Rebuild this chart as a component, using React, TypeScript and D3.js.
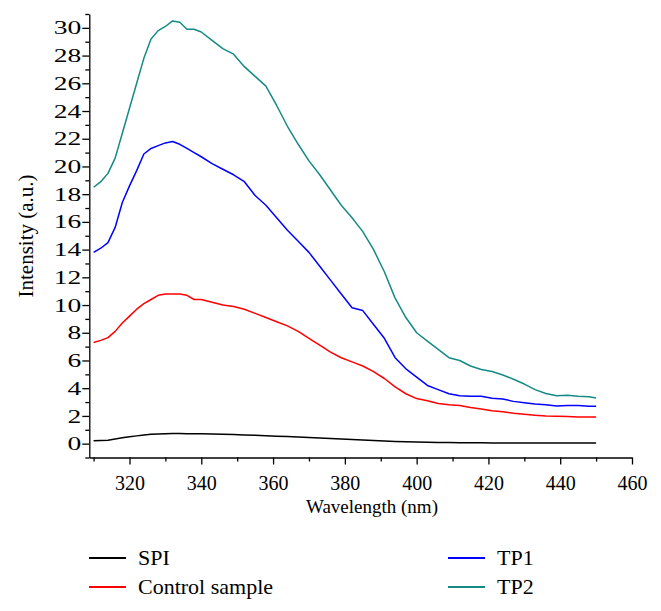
import { useEffect, useRef } from "react";
import * as d3 from "d3";

// wavelength grid (nm) shared by all four spectra
const wavelengths = [
  310, 312, 314, 316, 318, 320, 322, 324, 326, 328, 330, 332, 334, 336, 338, 340,
  343, 346, 349, 352, 355, 358, 361, 364, 367, 370, 373, 376, 379, 382, 385, 388,
  391, 394, 397, 400, 403, 406, 409, 412, 415, 418, 421, 424, 427, 430, 433, 436,
  439, 442, 445, 448, 450,
];

const spi = [
  0.2, 0.22, 0.25, 0.33, 0.42, 0.5, 0.56, 0.63, 0.68, 0.7, 0.72, 0.73, 0.73, 0.72, 0.72, 0.71,
  0.7, 0.68, 0.66, 0.63, 0.6, 0.57, 0.54, 0.51, 0.48, 0.45, 0.41, 0.37, 0.33, 0.3, 0.26, 0.22,
  0.19, 0.16, 0.14, 0.12, 0.1, 0.09, 0.08, 0.07, 0.06, 0.06, 0.05, 0.05, 0.05, 0.04, 0.04, 0.04,
  0.04, 0.04, 0.04, 0.04, 0.04,
];

const control = [
  7.3, 7.45, 7.65, 8.1, 8.7, 9.2, 9.7, 10.1, 10.4, 10.7, 10.8, 10.8, 10.8, 10.7, 10.4, 10.4,
  10.2, 10.0, 9.9, 9.7, 9.4, 9.1, 8.8, 8.5, 8.1, 7.6, 7.1, 6.6, 6.2, 5.9, 5.6, 5.2,
  4.7, 4.1, 3.6, 3.25, 3.1, 2.9, 2.8, 2.75, 2.6, 2.5, 2.38, 2.3, 2.2, 2.12, 2.05, 2.0,
  1.97, 1.95, 1.93, 1.92, 1.92,
];

const tp1 = [
  13.8, 14.1, 14.5, 15.6, 17.4, 18.6, 19.7, 20.9, 21.3, 21.5, 21.7, 21.8, 21.6, 21.3, 21.0, 20.7,
  20.2, 19.8, 19.4, 18.9, 17.9, 17.2, 16.3, 15.4, 14.6, 13.8, 12.8, 11.8, 10.8, 9.8, 9.6, 8.6,
  7.6, 6.2, 5.4, 4.8, 4.2, 3.9, 3.6, 3.45, 3.42, 3.42, 3.28, 3.22, 3.05, 2.95, 2.86, 2.8,
  2.72, 2.75, 2.75, 2.7, 2.7,
];

const tp2 = [
  18.5, 18.9, 19.5, 20.6, 22.4, 24.2, 26.0, 27.8, 29.2, 29.8, 30.1, 30.5, 30.4, 29.9, 29.9, 29.7,
  29.1, 28.5, 28.1, 27.2, 26.5, 25.8, 24.4, 22.9, 21.6, 20.4, 19.4, 18.3, 17.2, 16.3, 15.3, 14.0,
  12.4, 10.5, 9.1, 8.0, 7.4, 6.8, 6.2, 6.0, 5.6, 5.35, 5.2, 4.95, 4.65, 4.3, 3.9, 3.62,
  3.45, 3.5, 3.42, 3.38, 3.3,
];

const seriesNames = ["SPI", "Control sample", "TP1", "TP2"];
const seriesValues = [spi, control, tp1, tp2];
const seriesColors = ["#000000", "#ff0000", "#0000ff", "#158a85"];

const xMajorTicks = [320, 340, 360, 380, 400, 420, 440, 460];
const xMinorTicks = [310, 330, 350, 370, 390, 410, 430, 450];
const yMajorTicks = [0, 2, 4, 6, 8, 10, 12, 14, 16, 18, 20, 22, 24, 26, 28, 30];
const yMinorTicks = [-1, 1, 3, 5, 7, 9, 11, 13, 15, 17, 19, 21, 23, 25, 27, 29, 31];

const W = 661, H = 611;
const font = "'Liberation Serif', 'DejaVu Serif', serif";

const App = () => {
  const ref = useRef<SVGSVGElement>(null);

  useEffect(() => {
    const svg = d3.select(ref.current);
    svg.selectAll("*").remove();

    const x = d3.scaleLinear().domain([308.8, 460]).range([89.3, 632]);
    const y = d3.scaleLinear().domain([-1, 31]).range([457.5, 14]);

    // curves
    const line = d3.line<number>()
      .x((d, i) => x(wavelengths[i]))
      .y(d => y(d));

    seriesValues.forEach((vals, k) => {
      svg.append("path")
        .attr("d", line(vals))
        .attr("fill", "none")
        .attr("stroke", seriesColors[k])
        .attr("stroke-width", 1.5)
        .attr("stroke-linejoin", "round");
    });

    // x axis
    const gx = svg.append("g").attr("transform", `translate(0,${y.range()[0]})`);
    gx.call(d3.axisBottom(x).tickValues(xMinorTicks).tickSize(4).tickSizeOuter(0).tickFormat(() => ""));
    const gx2 = svg.append("g").attr("transform", `translate(0,${y.range()[0]})`);
    gx2.call(d3.axisBottom(x).tickValues(xMajorTicks).tickSize(7).tickSizeOuter(0).tickFormat(d3.format("d")));
    gx2.select(".domain").remove();

    // y axis
    const gy = svg.append("g").attr("transform", `translate(${x.range()[0]},0)`);
    gy.call(d3.axisLeft(y).tickValues(yMinorTicks).tickSize(4).tickSizeOuter(0).tickFormat(() => ""));
    const gy2 = svg.append("g").attr("transform", `translate(${x.range()[0]},0)`);
    gy2.call(d3.axisLeft(y).tickValues(yMajorTicks).tickSize(7).tickSizeOuter(0).tickFormat(d3.format("d")));
    gy2.select(".domain").remove();

    svg.selectAll("g").attr("font-family", null).attr("font-size", null);
    svg.selectAll(".domain, .tick line").attr("stroke", "#000").attr("stroke-width", 1.3);
    svg.selectAll(".tick text")
      .style("font-family", font)
      .attr("fill", "#000");
    gx2.selectAll("text").style("font-size", "20px").attr("y", 32.5).attr("dy", null);
    // y labels in the original are drawn wide
    gy2.selectAll("text")
      .style("font-size", "19px")
      .attr("x", 0)
      .attr("transform", "translate(-8,0) scale(1.45,1)");

    // axis titles
    svg.append("text")
      .attr("x", 372).attr("y", 513)
      .attr("text-anchor", "middle")
      .style("font-family", font).style("font-size", "19px")
      .text("Wavelength (nm)");
    svg.append("text")
      .attr("transform", "translate(33,236) rotate(-90)")
      .attr("text-anchor", "middle")
      .style("font-family", font).style("font-size", "21px")
      .text("Intensity (a.u.)");

    // legend, two columns
    const legendPos = [[89, 558], [89, 587], [448, 558], [448, 587]];
    seriesNames.forEach((name, k) => {
      const [lx, ly] = legendPos[k];
      svg.append("line")
        .attr("x1", lx).attr("x2", lx + 37)
        .attr("y1", ly).attr("y2", ly)
        .attr("stroke", seriesColors[k]).attr("stroke-width", 1.8);
      svg.append("text")
        .attr("x", lx + 49).attr("y", ly + 7)
        .style("font-family", font).style("font-size", "22px")
        .text(name);
    });
  }, []);

  return (
    <div>
      <svg ref={ref} width={W} height={H}
        style={{ position: "absolute", left: 0, top: 0, background: "#fff", fontFamily: font }} />
    </div>
  );
};

export default App;
